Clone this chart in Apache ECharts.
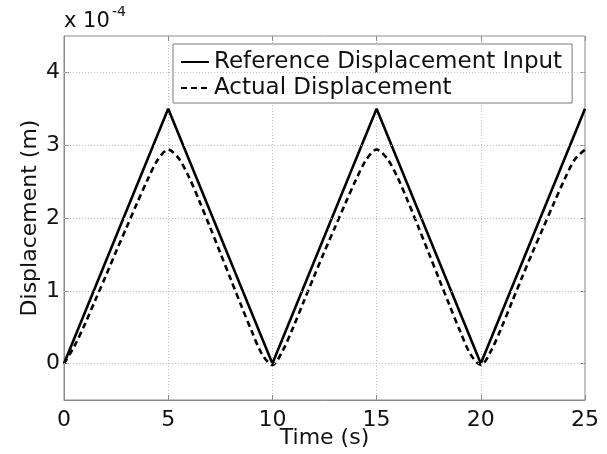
<!DOCTYPE html>
<html>
<head>
<meta charset="utf-8">
<script src="https://cdn.jsdelivr.net/npm/echarts@6/dist/echarts.min.js"></script>
<style>
html,body{margin:0;padding:0;background:#fff;}
#c{width:607px;height:454px;}
</style>
</head>
<body>
<div id="c"></div>
<script>
// Reference input (triangle wave), corner points
const refTime = [0, 5, 10, 15, 20, 25];
const refValues = [0, 3.5, 0, 3.5, 0, 3.5];

// Actual displacement sampled every 0.5 s (units of 1e-4 m)
const actTime = [0,0.5,1,1.5,2,2.5,3,3.5,4,4.5,5,5.5,6,6.5,7,7.5,8,8.5,9,9.5,10,
  10.5,11,11.5,12,12.5,13,13.5,14,14.5,15,15.5,16,16.5,17,17.5,18,18.5,19,19.5,20,
  20.5,21,21.5,22,22.5,23,23.5,24,24.5,25];
const actValues = [0,0.24,0.54,0.87,1.2,1.54,1.87,2.2,2.52,2.8,2.94,2.82,2.56,2.23,1.88,1.52,1.16,0.8,0.45,0.13,-0.02,
  0.18,0.5,0.85,1.2,1.54,1.87,2.2,2.52,2.8,2.94,2.82,2.56,2.23,1.88,1.52,1.16,0.8,0.45,0.13,-0.02,
  0.18,0.5,0.85,1.2,1.54,1.87,2.2,2.52,2.8,2.94];

const xTicks = [0, 5, 10, 15, 20, 25];
const yTicks = [0, 1, 2, 3, 4];
const seriesNames = ['Reference Displacement Input', 'Actual Displacement'];

const FONT = 'DejaVu Sans';
const TXT = '#111';
const FRAME = '#8a8a8a';
const GRIDC = '#bdbdbd';

const chart = echarts.init(document.getElementById('c'), null, {renderer: 'canvas'});

const zip = (a, b) => a.map((v, i) => [v, b[i]]);

chart.setOption({
  animation: false,
  backgroundColor: '#fff',
  grid: {left: 64, right: 22, top: 36, bottom: 54, show: true, borderColor: FRAME, borderWidth: 1,
    containLabel: false, outerBoundsMode: 'none'},
  xAxis: [{
    type: 'value', min: 0, max: 25, interval: 5,
    name: 'Time (s)', nameLocation: 'middle', nameGap: 27, nameMoveOverlap: false,
    nameTextStyle: {fontFamily: FONT, fontSize: 22, color: TXT},
    axisLine: {show: true, onZero: false, lineStyle: {color: FRAME, width: 1}},
    axisTick: {show: true, inside: true, length: 5, lineStyle: {color: FRAME}},
    axisLabel: {fontFamily: FONT, fontSize: 22, color: TXT, margin: 9},
    splitLine: {show: true, lineStyle: {color: GRIDC, type: [1, 2], width: 1}}
  }, {
    type: 'value', min: 0, max: 25, interval: 5, position: 'top',
    axisLine: {show: false, onZero: false},
    axisTick: {show: true, inside: true, length: 5, lineStyle: {color: FRAME}},
    axisLabel: {show: false}, splitLine: {show: false}
  }],
  yAxis: [{
    type: 'value', min: -0.5, max: 4.5, interval: 0.5,
    name: 'Displacement (m)', nameLocation: 'middle', nameGap: 23, nameRotate: 90, nameMoveOverlap: false,
    nameTextStyle: {fontFamily: FONT, fontSize: 22, color: TXT},
    axisLine: {show: true, onZero: false, lineStyle: {color: FRAME, width: 1}},
    axisTick: {show: true, inside: true, length: 5, lineStyle: {color: FRAME}, customValues: yTicks},
    axisLabel: {fontFamily: FONT, fontSize: 22, color: TXT, margin: 4, customValues: yTicks,
      formatter: v => (Math.abs(v - Math.round(v)) < 1e-9 ? String(Math.round(v)) : '')},
    splitLine: {show: false}
  }, {
    type: 'value', min: -0.5, max: 4.5, interval: 0.5, position: 'right',
    axisLine: {show: false, onZero: false},
    axisTick: {show: true, inside: true, length: 5, lineStyle: {color: FRAME}, customValues: yTicks},
    axisLabel: {show: false}, splitLine: {show: false}
  }],
  legend: {
    orient: 'vertical', left: 173, top: 44,
    padding: [6, 10, 3, 7], itemGap: 2,
    itemWidth: 28, itemHeight: 14,
    backgroundColor: '#fff', borderColor: '#7a7a7a', borderWidth: 1, borderRadius: 0,
    itemStyle: {color: 'rgba(0,0,0,0)', borderWidth: 0, opacity: 0},
    textStyle: {fontFamily: FONT, fontSize: 23, color: TXT, lineHeight: 24},
    data: seriesNames
  },
  graphic: [
    {type: 'text', left: 64, top: 11, style: {text: 'x 10', font: '21px "DejaVu Sans"', fill: TXT}},
    {type: 'text', left: 112, top: 5, style: {text: '-4', font: '14px "DejaVu Sans"', fill: TXT}}
  ],
  series: [
    {
      type: 'line', name: '__grid', data: [], silent: true, z: 1,
      markLine: {
        silent: true, symbol: 'none', label: {show: false},
        lineStyle: {color: GRIDC, type: [1, 2], width: 1},
        data: yTicks.map(v => ({yAxis: v}))
      }
    },
    {
      type: 'line', name: seriesNames[0], data: zip(refTime, refValues),
      symbol: 'none', z: 3,
      lineStyle: {color: '#000', width: 2.6, type: 'solid'},
      itemStyle: {color: '#000'}
    },
    {
      type: 'line', name: seriesNames[1], data: zip(actTime, actValues),
      symbol: 'none', smooth: 0.3, z: 3,
      lineStyle: {color: '#000', width: 2.6, type: [6, 4]},
      itemStyle: {color: '#000'}
    }
  ]
});
</script>
</body>
</html>
